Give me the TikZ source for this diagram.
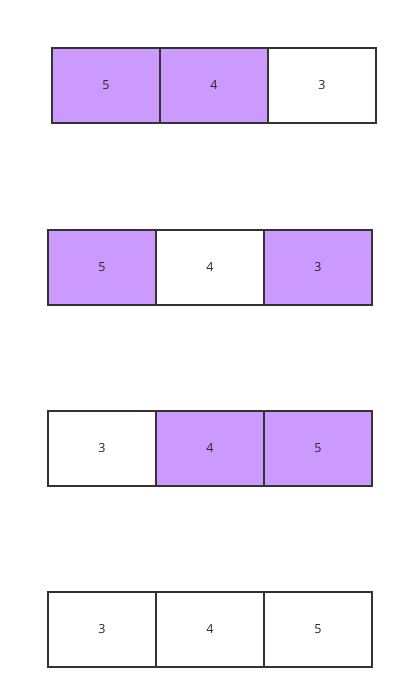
\documentclass[tikz,border=0pt]{standalone}
\usepackage{fontspec}
\setmainfont{Open Sans}
\usetikzlibrary{positioning}

\definecolor{lilac}{HTML}{CC99FF}
\definecolor{edge}{HTML}{333333}

\tikzset{
	cell/.style = {draw = edge, line width = 1.3pt, minimum width = 108pt, minimum height = 75pt, inner sep = 0pt, outer sep = 0pt, font = \fontsize{12.5}{15}\selectfont, text = black!85},
	hot/.style = {cell, fill = lilac},
	cold/.style = {cell, fill = white}
}

\begin{document}
\begin{tikzpicture}[x = 1pt, y = -1pt, node distance = 0pt]
			\useasboundingbox (0,0) rectangle (408,699);

			% row 1
			\node [hot, anchor = north west] (a1) at (52,48) {5};
			\node [hot, right = of a1] (a2) {4};
			\node [cold, right = of a2] (a3) {3};

			% row 2
			\node [hot, anchor = north west] (b1) at (48,230) {5};
			\node [cold, right = of b1] (b2) {4};
			\node [hot, right = of b2] (b3) {3};

			% row 3
			\node [cold, anchor = north west] (c1) at (48,411) {3};
			\node [hot, right = of c1] (c2) {4};
			\node [hot, right = of c2] (c3) {5};

			% row 4
			\node [cold, anchor = north west] (d1) at (48,592) {3};
			\node [cold, right = of d1] (d2) {4};
			\node [cold, right = of d2] (d3) {5};
		\end{tikzpicture}
\end{document}
